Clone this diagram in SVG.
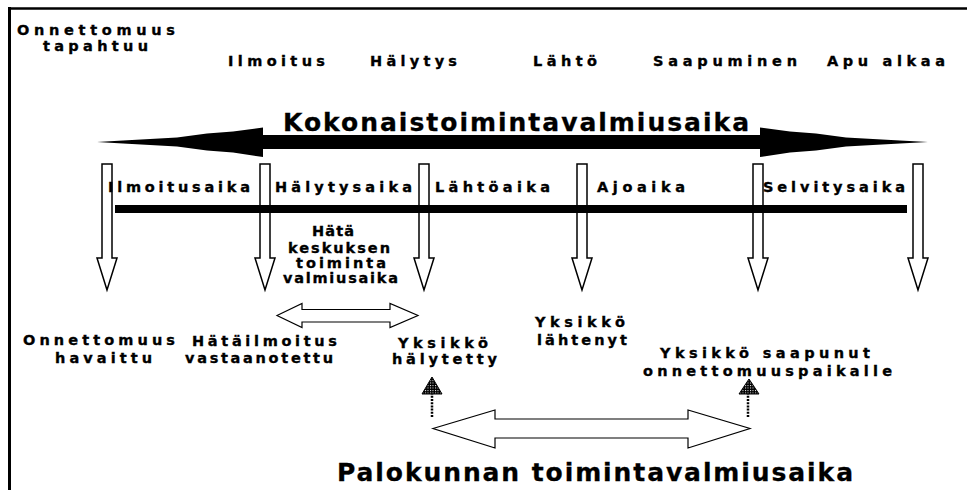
<svg xmlns="http://www.w3.org/2000/svg" width="967" height="490" viewBox="0 0 967 490">
<style>
text{font-family:"DejaVu Sans","Liberation Sans",Arial,sans-serif;font-weight:bold;fill:#000}
.s{font-size:14.5px;stroke:#000;stroke-width:0.35}
.b{font-size:25px;stroke:#000;stroke-width:0.3}
.hol{fill:#fff;stroke:#000;stroke-width:1.5}
.thin{fill:#fff;stroke:#000;stroke-width:1.2}
</style>
<defs>
<pattern id="dots" width="2.5" height="2.5" patternUnits="userSpaceOnUse">
<rect width="2.5" height="2.5" fill="#000"/>
<rect width="1" height="1" fill="#fff"/>
</pattern>
</defs>
<rect x="0" y="0" width="967" height="490" fill="#fff"/>
<g id="frame">
<line x1="9.5" y1="7" x2="9.5" y2="490" stroke="#000" stroke-width="3"/>
<line x1="8" y1="8.5" x2="967" y2="8.5" stroke="#000" stroke-width="2.5"/>
</g>
<g id="connectors">
<polygon fill="#000" points="97,142 123,140.5 177,137.5 207,133.5 233,131.5 263,127.5 263,135 760,135 760,127.5 790,131.5 816,133.5 846,137.5 900,140.5 928,142 900,143.5 846,146.5 816,150.5 790,152.5 760,157 760,149 263,149 263,157 233,152.5 207,150.5 177,146.5 123,143.5"/>
<polygon class="hol" points="102,164 112,164 112,258 117,258 107,290 97,258 102,258"/>
<polygon class="hol" points="260,164 270,164 270,258 275,258 265,290 255,258 260,258"/>
<polygon class="hol" points="419,164 429,164 429,258 434,258 424,290 414,258 419,258"/>
<polygon class="hol" points="577,164 587,164 587,258 592,258 582,290 572,258 577,258"/>
<polygon class="hol" points="753,164 763,164 763,258 768,258 758,290 748,258 753,258"/>
<polygon class="hol" points="913,164 923,164 923,258 928,258 918,290 908,258 913,258"/>
<rect x="115" y="205" width="792" height="8" fill="#000"/>
<polygon class="thin" points="277,315.5 302,303.5 302,309.5 390,309.5 390,303.5 418,315.5 390,327.5 390,322 302,322 302,327.5"/>
<polygon class="thin" points="433,428.5 495,410 495,419 688,419 688,410 750,428.5 688,448 688,438 495,438 495,448"/>
<line x1="432" y1="417" x2="432" y2="394" stroke="#000" stroke-width="2.5" stroke-dasharray="2,1.2"/>
<polygon points="432,377 442,394 422,394" fill="url(#dots)" stroke="#000" stroke-width="1"/>
<line x1="748" y1="417" x2="748" y2="394" stroke="#000" stroke-width="2.5" stroke-dasharray="2,1.2"/>
<polygon points="749,379 759,394 739,394" fill="url(#dots)" stroke="#000" stroke-width="1"/>
</g>
<g id="event-tapahtuu">
<text class="s" x="17" y="35" textLength="158" lengthAdjust="spacing">Onnettomuus</text>
<text class="s" x="43" y="51" textLength="105" lengthAdjust="spacing">tapahtuu</text>
</g>
<g id="event-ilmoitus"><text class="s" x="228" y="66" textLength="97" lengthAdjust="spacing">Ilmoitus</text></g>
<g id="event-halytys"><text class="s" x="370" y="66" textLength="87" lengthAdjust="spacing">Hälytys</text></g>
<g id="event-lahto"><text class="s" x="533" y="66" textLength="64" lengthAdjust="spacing">Lähtö</text></g>
<g id="event-saapuminen"><text class="s" x="653" y="66" textLength="144" lengthAdjust="spacing">Saapuminen</text></g>
<g id="event-apu"><text class="s" x="827" y="66" textLength="118" lengthAdjust="spacing">Apu alkaa</text></g>
<g id="total-label"><text class="b" x="283" y="131" textLength="466" lengthAdjust="spacing">Kokonaistoimintavalmiusaika</text></g>
<g id="phase-ilmoitusaika"><text class="s" x="108" y="192" textLength="142" lengthAdjust="spacing">Ilmoitusaika</text></g>
<g id="phase-halytysaika"><text class="s" x="275" y="192" textLength="137" lengthAdjust="spacing">Hälytysaika</text></g>
<g id="phase-lahtoaika"><text class="s" x="435" y="192" textLength="115" lengthAdjust="spacing">Lähtöaika</text></g>
<g id="phase-ajoaika"><text class="s" x="597" y="192" textLength="88" lengthAdjust="spacing">Ajoaika</text></g>
<g id="phase-selvitysaika"><text class="s" x="763" y="192" textLength="142" lengthAdjust="spacing">Selvitysaika</text></g>
<g id="hatakeskus-label">
<text class="s" x="312" y="236" textLength="42" lengthAdjust="spacing">Hätä</text>
<text class="s" x="288" y="253" textLength="102" lengthAdjust="spacing">keskuksen</text>
<text class="s" x="296" y="268" textLength="90" lengthAdjust="spacing">toiminta</text>
<text class="s" x="283" y="283" textLength="115" lengthAdjust="spacing">valmiusaika</text>
</g>
<g id="state-havaittu">
<text class="s" x="23" y="345" textLength="152" lengthAdjust="spacing">Onnettomuus</text>
<text class="s" x="55" y="363" textLength="97" lengthAdjust="spacing">havaittu</text>
</g>
<g id="state-vastaanotettu">
<text class="s" x="192" y="346" textLength="145" lengthAdjust="spacing">Hätäilmoitus</text>
<text class="s" x="185" y="363" textLength="148" lengthAdjust="spacing">vastaanotettu</text>
</g>
<g id="state-halytetty">
<text class="s" x="398" y="348" textLength="90" lengthAdjust="spacing">Yksikkö</text>
<text class="s" x="392" y="364" textLength="105" lengthAdjust="spacing">hälytetty</text>
</g>
<g id="state-lahtenyt">
<text class="s" x="535" y="327" textLength="90" lengthAdjust="spacing">Yksikkö</text>
<text class="s" x="537" y="345" textLength="90" lengthAdjust="spacing">lähtenyt</text>
</g>
<g id="state-saapunut">
<text class="s" x="660" y="358" textLength="210" lengthAdjust="spacing">Yksikkö  saapunut</text>
<text class="s" x="643" y="376" textLength="249" lengthAdjust="spacing">onnettomuuspaikalle</text>
</g>
<g id="brigade-label"><text class="b" x="337" y="481" textLength="516" lengthAdjust="spacing">Palokunnan toimintavalmiusaika</text></g>
</svg>
